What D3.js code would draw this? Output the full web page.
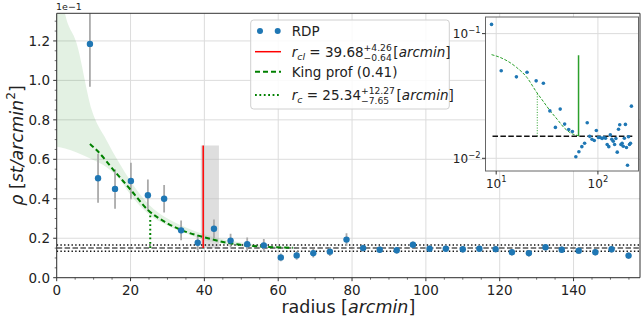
<!DOCTYPE html>
<html><head><meta charset="utf-8">
<script src="https://cdn.jsdelivr.net/npm/d3@7"></script>
<style>
body{margin:0;background:#fff}
text{font-family:"DejaVu Sans",sans-serif;white-space:pre;fill:#222}
</style>
</head><body>
<svg id="c" width="641" height="325"></svg>
<script>
// ---------- DATA (main values in units of 1e-1 st/arcmin^2) ----------
const radius = [9.0,11.2,15.8,20.1,24.7,29.1,33.7,38.2,42.6,47.1,51.6,56.1,60.7,65.0,69.5,74.0,78.5,83.0,87.5,92.1,96.5,101.0,105.4,110.0,114.5,118.9,123.3,127.9,132.4,136.8,141.4,145.9,150.3,154.9];
const density = [1.185,0.504,0.450,0.490,0.418,0.400,0.240,0.177,0.248,0.188,0.170,0.164,0.103,0.113,0.124,0.132,0.193,0.150,0.142,0.139,0.167,0.147,0.147,0.144,0.147,0.145,0.129,0.124,0.154,0.142,0.137,0.129,0.144,0.112];
const densityErr = [0.217,0.124,0.100,0.092,0.080,0.070,0.050,0.037,0.047,0.035,0.034,0.032,0.020,0.022,0.022,0.022,0.032,0.017,0.017,0.017,0.017,0.017,0.017,0.017,0.017,0.017,0.017,0.017,0.017,0.017,0.017,0.017,0.017,0.017];
// extra outer bins only visible in the log-log inset
const radiusOuter = [159.4,163.9,168.4,172.9,177.4,181.9,186.4,190.9,195.4,199.9,204.4,208.9,213.4];
const densityOuter = [0.171,0.186,0.129,0.132,0.125,0.145,0.187,0.122,0.088,0.149,0.129,0.132,0.262];

// King profile fit
const kingR = [9.0,10.8,15.8,20.1,24.7,29.2,33.7,39.9,47.1,56.1,64.0];
const kingV = [0.678,0.647,0.537,0.444,0.343,0.284,0.242,0.205,0.174,0.157,0.152];
// confidence band
const bandR     = [0,2.25,5.4,9.5,13.5,17,20,25,30,35,40,45,50,55,60,65];
const bandUpper = [1.60,1.34,1.188,0.85,0.697,0.58,0.49,0.37,0.30,0.255,0.22,0.195,0.178,0.167,0.160,0.156];
const bandLower = [0.664,0.655,0.635,0.60,0.56,0.50,0.42,0.32,0.265,0.225,0.19,0.172,0.160,0.153,0.149,0.148];

const background = 0.150, backgroundLo = 0.134, backgroundHi = 0.166;
const rcl = 39.68, rclPlus = 4.26, rclMinus = 0.64;
const rc = 25.34, rcValue = 0.330;
const clusterTop = 0.670;
const insetKingEnd = 64.5, insetKingEndTop = 0.67;
const insetBgFrom = 9.2, insetBgTo = 222;

const xTicks = [0,20,40,60,80,100,120,140];
const yTicks = [0.0,0.2,0.4,0.6,0.8,1.0,1.2];
const yTickLabels = ["0.0","0.2","0.4","0.6","0.8","1.0","1.2"];
const insetXTicks = [10,100], insetXExp = ["1","2"];
const insetYTicks = [0.1,0.01], insetYExp = ["−1","−2"];

// ---------- SETUP ----------
const svg = d3.select("#c");
const L=56.7, R=640, T=13.3, B=277.7;
const x = d3.scaleLinear([0,158],[L,R]);
const y = d3.scaleLinear([0,1.34],[B,T]);

svg.append("clipPath").attr("id","clipMain").append("rect")
  .attr("x",L).attr("y",T).attr("width",R-L).attr("height",B-T);

function richText(g, x0, y0, parts, fs){
  let cx = x0;
  parts.forEach(p=>{
    if(p.stack){
      const sz = fs*0.68;
      const a = g.append("text").attr("x",cx).attr("y",y0-fs*0.46).attr("font-size",sz).text(p.stack[0]);
      const b = g.append("text").attr("x",cx).attr("y",y0+fs*0.27).attr("font-size",sz).text(p.stack[1]);
      cx += Math.max(a.node().getComputedTextLength(), b.node().getComputedTextLength()) + fs*0.12;
    } else {
      const small = p.sub||p.sup;
      const sz = small ? fs*0.7 : fs;
      const dy = p.sub ? fs*0.2 : p.sup ? -fs*0.42 : 0;
      const t = g.append("text").attr("x",cx).attr("y",y0+dy).attr("font-size",sz)
        .attr("font-style",p.i?"italic":null).text(p.t);
      cx += t.node().getComputedTextLength();
    }
  });
  return cx - x0;
}

// ---------- GRID ----------
const grid = svg.append("g").attr("stroke","#dcdcdc").attr("stroke-width",1);
xTicks.forEach(v=>grid.append("line").attr("x1",x(v)).attr("x2",x(v)).attr("y1",T).attr("y2",B));
yTicks.forEach(v=>grid.append("line").attr("x1",L).attr("x2",R).attr("y1",y(v)).attr("y2",y(v)));

const plot = svg.append("g").attr("clip-path","url(#clipMain)");

// confidence band
const bandData = bandR.map((r,i)=>({r,u:bandUpper[i],l:bandLower[i]}));
plot.append("path").datum(bandData)
  .attr("d",d3.area().x(d=>x(d.r)).y0(d=>y(d.l)).y1(d=>y(d.u)).curve(d3.curveMonotoneX))
  .attr("fill","green").attr("fill-opacity",0.11);

// cluster radius uncertainty span
plot.append("rect").attr("x",x(rcl-rclMinus)).attr("width",x(rcl+rclPlus)-x(rcl-rclMinus))
  .attr("y",y(clusterTop)).attr("height",y(background)-y(clusterTop))
  .attr("fill","#bdbdbd").attr("fill-opacity",0.5);

// background lines
plot.append("line").attr("x1",L).attr("x2",R).attr("y1",y(background)).attr("y2",y(background))
  .attr("stroke","#555").attr("stroke-width",1.5).attr("stroke-dasharray","5.5,2.4");
[backgroundLo,backgroundHi].forEach(v=>plot.append("line").attr("x1",L).attr("x2",R)
  .attr("y1",y(v)).attr("y2",y(v)).attr("stroke","#111").attr("stroke-width",1.4).attr("stroke-dasharray","1.4,2.3"));

// error bars
const pts = radius.map((r,i)=>({r,v:density[i],e:densityErr[i]}));
plot.append("g").selectAll("line").data(pts).join("line")
  .attr("x1",d=>x(d.r)).attr("x2",d=>x(d.r)).attr("y1",d=>y(d.v-d.e)).attr("y2",d=>y(d.v+d.e))
  .attr("stroke","#aaaaaa").attr("stroke-width",1.8);

// King profile
const kData = kingR.map((r,i)=>({r,v:kingV[i]}));
plot.append("path").datum(kData)
  .attr("d",d3.line().x(d=>x(d.r)).y(d=>y(d.v)).curve(d3.curveMonotoneX))
  .attr("fill","none").attr("stroke","#008000").attr("stroke-width",2).attr("stroke-dasharray","5,3");

// core radius dotted
plot.append("line").attr("x1",x(rc)).attr("x2",x(rc)).attr("y1",y(background)).attr("y2",y(rcValue))
  .attr("stroke","#008000").attr("stroke-width",2).attr("stroke-dasharray","1.8,2.6");

// cluster radius red line
plot.append("line").attr("x1",x(rcl)).attr("x2",x(rcl)).attr("y1",y(background)).attr("y2",y(clusterTop))
  .attr("stroke","red").attr("stroke-width",1.5);

// points
plot.append("g").selectAll("circle").data(pts).join("circle")
  .attr("cx",d=>x(d.r)).attr("cy",d=>y(d.v)).attr("r",3.2).attr("fill","#1f77b4");

// ---------- AXES ----------
const ax = svg.append("g").attr("stroke","#333");
ax.append("line").attr("x1",L).attr("x2",L).attr("y1",T).attr("y2",B).attr("stroke-width",1);
ax.append("line").attr("x1",L).attr("x2",R).attr("y1",B).attr("y2",B).attr("stroke-width",1);
ax.append("line").attr("x1",L).attr("x2",R).attr("y1",T).attr("y2",T).attr("stroke-width",1);
ax.append("line").attr("x1",R).attr("x2",R).attr("y1",T).attr("y2",B).attr("stroke-width",1);
d3.range(0,158,5).forEach(v=>{
  const maj = v%20===0;
  ax.append("line").attr("x1",x(v)).attr("x2",x(v)).attr("y1",B).attr("y2",B+(maj?3.5:2)).attr("stroke-width",maj?1:0.7);
});
d3.range(0,27).map(i=>i*0.05).forEach((v,i)=>{
  const maj = i%4===0;
  ax.append("line").attr("x1",L).attr("x2",L-(maj?3.5:2)).attr("y1",y(v)).attr("y2",y(v)).attr("stroke-width",maj?1:0.7);
});
xTicks.forEach(v=>svg.append("text").attr("x",x(v)).attr("y",295).attr("text-anchor","middle").attr("font-size",13.5).text(String(v)));
yTicks.forEach((v,i)=>svg.append("text").attr("x",50).attr("y",y(v)+4.8).attr("text-anchor","end").attr("font-size",13.5).text(yTickLabels[i]));
svg.append("text").attr("x",56).attr("y",10).attr("font-size",9.5).text("1e−1");

// axis labels
const xl = svg.append("g");
const xw = richText(xl,0,313,[{t:"radius ["},{t:"arcmin",i:true},{t:"]"}],17.5);
xl.attr("transform",`translate(${(L+R)/2 - xw/2},0)`);
const yl = svg.append("g");
const yw = richText(yl,0,0,[{t:"ρ",i:true},{t:" ["},{t:"st/arcmin",i:true},{t:"2",sup:true},{t:"]"}],17.5);
yl.attr("transform",`translate(22.5,${(T+B)/2 + yw/2}) rotate(-90)`);

// ---------- LEGEND ----------
const lg = svg.append("g");
lg.append("rect").attr("x",250.7).attr("y",20).attr("width",198.6).attr("height",89).attr("rx",3)
  .attr("fill","#fff").attr("fill-opacity",0.85).attr("stroke","#d0d0d0");
lg.append("circle").attr("cx",260).attr("cy",31).attr("r",3).attr("fill","#1f77b4");
lg.append("circle").attr("cx",277.7).attr("cy",31).attr("r",3).attr("fill","#1f77b4");
lg.append("line").attr("x1",255).attr("x2",281).attr("y1",51.7).attr("y2",51.7).attr("stroke","red").attr("stroke-width",1.5);
lg.append("line").attr("x1",255).attr("x2",281).attr("y1",71.7).attr("y2",71.7).attr("stroke","#008000").attr("stroke-width",2).attr("stroke-dasharray","5,3");
lg.append("line").attr("x1",255).attr("x2",281).attr("y1",95).attr("y2",95).attr("stroke","#008000").attr("stroke-width",2).attr("stroke-dasharray","1.8,2.6");
const lx = 291.7, fs = 13.5;
richText(lg,lx,36,[{t:"RDP"}],fs);
richText(lg,lx,57,[{t:"r",i:true},{t:"cl",i:true,sub:true},{t:" = 39.68"},{stack:["+4.26","−0.64"]},{t:"["},{t:"arcmin",i:true},{t:"]"}],fs);
richText(lg,lx,77,[{t:"King prof (0.41)"}],fs);
richText(lg,lx,100,[{t:"r",i:true},{t:"c",i:true,sub:true},{t:" = 25.34"},{stack:["+12.27","−7.65"]},{t:"["},{t:"arcmin",i:true},{t:"]"}],fs);

// ---------- INSET (log-log, true units) ----------
const IL=485.5, IR=638.5, IT=17, IB=171;
const ix = d3.scaleLog([7.85,250.6],[IL,IR]);
const iy = d3.scaleLog([0.00791,0.1359],[IB,IT]);
const ins = svg.append("g");
ins.append("rect").attr("x",IL).attr("y",IT).attr("width",IR-IL).attr("height",IB-IT).attr("fill","#fff");
ins.append("clipPath").attr("id","clipIn").append("rect").attr("x",IL).attr("y",IT).attr("width",IR-IL).attr("height",IB-IT);
insetXTicks.forEach(v=>ins.append("line").attr("x1",ix(v)).attr("x2",ix(v)).attr("y1",IT).attr("y2",IB).attr("stroke","#dcdcdc"));
insetYTicks.forEach(v=>ins.append("line").attr("x1",IL).attr("x2",IR).attr("y1",iy(v)).attr("y2",iy(v)).attr("stroke","#dcdcdc"));
const ip = ins.append("g").attr("clip-path","url(#clipIn)");
const scale = 0.1;
ip.append("path").datum(kData)
  .attr("d",d3.line().x(d=>ix(d.r)).y(d=>iy(d.v*scale)).curve(d3.curveMonotoneX))
  .attr("fill","none").attr("stroke","#2ca02c").attr("stroke-width",1).attr("stroke-dasharray","3,1.6");
ip.append("line").attr("x1",ix(rc)).attr("x2",ix(rc)).attr("y1",iy(background*scale)).attr("y2",iy(rcValue*scale))
  .attr("stroke","#2ca02c").attr("stroke-width",1).attr("stroke-dasharray","1,1.6");
ip.append("line").attr("x1",ix(insetKingEnd)).attr("x2",ix(insetKingEnd)).attr("y1",iy(background*scale)).attr("y2",iy(insetKingEndTop*scale))
  .attr("stroke","#2ca02c").attr("stroke-width",1.5);
ip.append("line").attr("x1",ix(insetBgFrom)).attr("x2",ix(insetBgTo)).attr("y1",iy(background*scale)).attr("y2",iy(background*scale))
  .attr("stroke","#111").attr("stroke-width",1.5).attr("stroke-dasharray","5.5,2.4");
const allPts = radius.concat(radiusOuter).map((r,i)=>({r,v:density.concat(densityOuter)[i]*scale}));
ip.append("g").selectAll("circle").data(allPts).join("circle")
  .attr("cx",d=>ix(d.r)).attr("cy",d=>iy(d.v)).attr("r",1.8).attr("fill","#1f77b4");
ins.append("rect").attr("x",IL).attr("y",IT).attr("width",IR-IL).attr("height",IB-IT)
  .attr("fill","none").attr("stroke","#666").attr("stroke-width",1);
insetXTicks.forEach((v,i)=>{
  ins.append("line").attr("x1",ix(v)).attr("x2",ix(v)).attr("y1",IB).attr("y2",IB+3.5).attr("stroke","#333");
  const g = ins.append("g");
  const w = richText(g,0,187.5,[{t:"10"},{t:insetXExp[i],sup:true}],12);
  g.attr("transform",`translate(${ix(v)-w/2},0)`);
});
insetYTicks.forEach((v,i)=>{
  ins.append("line").attr("x1",IL).attr("x2",IL-3.5).attr("y1",iy(v)).attr("y2",iy(v)).attr("stroke","#333");
  const g = ins.append("g");
  const w = richText(g,0,iy(v)+4.5,[{t:"10"},{t:insetYExp[i],sup:true}],12);
  g.attr("transform",`translate(${IL-5-w},0)`);
});
</script>
</body></html>
